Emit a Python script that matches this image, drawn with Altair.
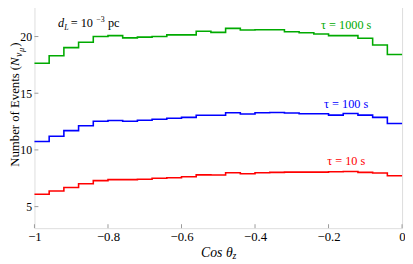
import altair as alt
import pandas as pd

# ---- data ----
bin_edges = [-1.0, -0.96, -0.92, -0.88, -0.84, -0.8, -0.76, -0.72, -0.68, -0.64,
             -0.6, -0.56, -0.52, -0.48, -0.44, -0.4, -0.36, -0.32, -0.28, -0.24,
             -0.2, -0.16, -0.12, -0.08, -0.04, 0.0]
tau_1000 = [17.64, 18.30, 19.02, 19.50, 20.00, 20.08, 19.88, 19.95, 20.00, 20.15,
            20.15, 20.46, 20.37, 20.72, 20.57, 20.60, 20.60, 20.43, 20.34, 20.22,
            20.08, 20.08, 19.85, 19.25, 18.41]
tau_100 = [10.75, 11.21, 11.70, 12.13, 12.53, 12.59, 12.53, 12.61, 12.70, 12.79,
           12.87, 13.05, 13.05, 13.28, 13.16, 13.28, 13.30, 13.25, 13.19, 13.19,
           13.07, 13.22, 13.07, 12.87, 12.33]
tau_10 = [6.09, 6.38, 6.69, 7.01, 7.29, 7.38, 7.38, 7.41, 7.50, 7.55,
          7.64, 7.80, 7.78, 7.98, 7.90, 7.98, 8.02, 8.04, 8.04, 8.04,
          8.07, 8.10, 8.02, 7.96, 7.72]
series_names = ["τ = 1000 s", "τ = 100 s", "τ = 10 s"]
series_colors = ["#00aa00", "#0000ff", "#ff0000"]
label_x = [-0.152, -0.152, -0.152]
label_y = [21.02, 14.06, 9.01]
x_ticks = [-1, -0.8, -0.6, -0.4, -0.2, 0]
y_ticks = [5, 10, 15, 20]

rows = []
for name, vals in zip(series_names, [tau_1000, tau_100, tau_10]):
    for i, e in enumerate(bin_edges):
        rows.append({"x": e, "y": vals[min(i, len(vals) - 1)], "series": name})
df = pd.DataFrame(rows)
df_lab = pd.DataFrame({"x": label_x, "y": label_y, "series": series_names})

X0, X1 = -1.0, 0.0
Y0, Y1 = 3.1, 22.9
W, H = 375, 229
FONT = "Liberation Serif"

xs = alt.Scale(domain=[X0, X1], nice=False, zero=False)
ys = alt.Scale(domain=[Y0, Y1], nice=False, zero=False)
x_axis = alt.Axis(values=x_ticks, title=None, ticks=False, tickSize=0, domain=False,
                  grid=False, labelFont=FONT, labelFontSize=13, labelColor="black",
                  labelPadding=3, labelFlush=False, labelOverlap=False, labelBound=False,
                  labelExpr="datum.value == 0 ? '0' : format(datum.value, '.1~f')")
y_axis = alt.Axis(values=y_ticks, title=None, ticks=False, tickSize=0, domain=False,
                  grid=False, labelFont=FONT, labelFontSize=12, labelColor="black",
                  labelPadding=3, labelFlush=False, labelOverlap=False)


def X(f):
    return alt.X(f, type="quantitative", scale=xs, axis=x_axis)


def Y(f):
    return alt.Y(f, type="quantitative", scale=ys, axis=y_axis)


color = alt.Color("series:N", scale=alt.Scale(domain=series_names, range=series_colors),
                  legend=None)

lines = alt.Chart(df).mark_line(interpolate="step-after", strokeWidth=1.6).encode(
    x=X("x"), y=Y("y"), color=color)

labels = alt.Chart(df_lab).mark_text(font=FONT, fontSize=12.5, align="center",
                                     baseline="middle").encode(
    x=X("x"), y=Y("y"), text="series:N", color=color)

# inward frame ticks
tk = 4
df_bt = pd.DataFrame({"x": x_ticks, "y": [Y0] * len(x_ticks),
                      "y2": [Y0 + tk / H * (Y1 - Y0)] * len(x_ticks)})
df_lt = pd.DataFrame({"y": y_ticks, "x": [X0] * len(y_ticks),
                      "x2": [X0 + tk / W * (X1 - X0)] * len(y_ticks)})
bticks = alt.Chart(df_bt).mark_rule(color="#999", strokeWidth=1).encode(
    x=X("x"), y=Y("y"), y2="y2")
lticks = alt.Chart(df_lt).mark_rule(color="#999", strokeWidth=1).encode(
    x=X("x"), x2="x2", y=Y("y"))


def txt(text, x, y, size, color="black", style="normal", align="left", angle=0,
        baseline="alphabetic"):
    kw = dict(font=FONT, fontSize=size, fontStyle=style, align=align,
              baseline=baseline, color=color)
    if angle:
        kw["angle"] = angle
    return alt.Chart(pd.DataFrame({"t": [text]})).mark_text(**kw).encode(
        x=alt.value(x), y=alt.value(y), text="t:N")


# d_L = 10^-3 pc  (plot pixel coords; plot origin is page (35,1))
ann = [
    txt("d", 24, 24, 12.5, style="italic"),
    txt("L", 30.5, 27, 8, style="italic"),
    txt("= 10", 37, 24, 12.5),
    txt("−3", 63, 19, 8),
    txt("pc", 75, 24, 12.5),
]
# y title (rotated, reads bottom to top)
TB = -15.4
yt = [
    txt("Number of Events (", TB, 63.5, 13, align="right", angle=270),
    txt("N", TB, 63.5, 13, style="italic", angle=270),
    txt("ν", TB + 3, 54.5, 10, style="italic", angle=270),
    txt("μ", TB + 5, 49.3, 8.5, style="italic", angle=270),
    txt(")", TB, 44, 13, angle=270),
]
# x title
xt = [
    txt("Cos θ", 170, 258, 14, style="italic"),
    txt("z", 202, 260, 10, style="italic"),
]

chart = alt.layer(lines, bticks, lticks, labels, *ann, *yt, *xt).properties(
    width=W, height=H,
    padding={"left": 27, "top": -7, "right": 3, "bottom": 34},
    autosize=alt.AutoSizeParams(type="none"),
).configure_view(stroke="#999", strokeWidth=1).configure(background="white")

chart.save("out.html", embed_options={"renderer": "svg", "actions": False})
